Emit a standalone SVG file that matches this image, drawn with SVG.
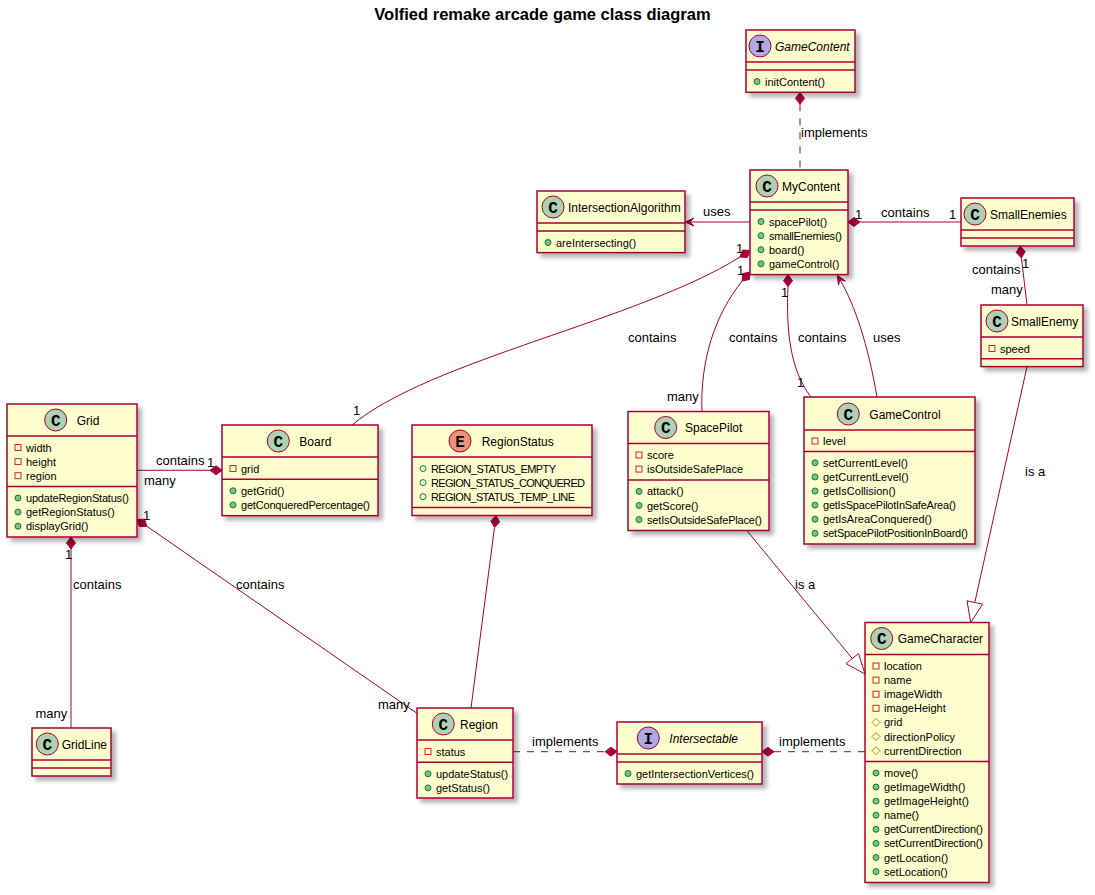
<svg xmlns="http://www.w3.org/2000/svg" width="1095" height="895" viewBox="0 0 1095 895">
<defs>
  <filter id="sh" x="-10%" y="-10%" width="130%" height="130%">
    <feGaussianBlur in="SourceAlpha" stdDeviation="2"/>
    <feOffset dx="4" dy="4" result="b"/>
    <feFlood flood-color="#000" flood-opacity="0.3"/>
    <feComposite in2="b" operator="in"/>
    <feMerge><feMergeNode/><feMergeNode in="SourceGraphic"/></feMerge>
  </filter>
  <style>
    .box{fill:#FEFECE;stroke:#A80036;stroke-width:1.5;filter:url(#sh)}
    .div{stroke:#A80036;stroke-width:1.5}
    .ic{stroke:#A80036;stroke-width:1}
    .cC{fill:#ADD1B2}.cI{fill:#B4A7E5}.cE{fill:#EB937F}
    .glyph{font-family:"Liberation Mono",monospace;font-weight:bold;font-size:16px;text-anchor:middle;fill:#000}
    .name{font-family:"Liberation Sans",Arial,sans-serif;font-size:12px;fill:#000}
    .abs{font-style:italic}
    .mem{font-family:"Liberation Sans",Arial,sans-serif;font-size:11px;fill:#000}
    .lbl{font-family:"Liberation Sans",Arial,sans-serif;font-size:13px;fill:#000}
    .title{font-family:"Liberation Sans",Arial,sans-serif;font-size:16.5px;font-weight:bold;text-anchor:middle;fill:#000}
    .priv{fill:none;stroke:#C82930;stroke-width:1}
    .pub{fill:#84BE84;stroke:#038048;stroke-width:1}
    .pubf{fill:none;stroke:#038048;stroke-width:1}
    .prot{fill:none;stroke:#B38D22;stroke-width:1}
    .ln{fill:none;stroke:#A80036;stroke-width:1}
    .dash{stroke-dasharray:7,7}
    .hd{fill:#A80036;stroke:#A80036;stroke-width:1}
    .tri{fill:none;stroke:#A80036;stroke-width:1}
  </style>
</defs>
<rect width="1095" height="895" fill="#FFFFFF"/>
<text class="title" x="542.5" y="20">Volfied remake arcade game class diagram</text>

<!-- connectors -->
<g id="connectors">
  <!-- GameContent / MyContent -->
  <polygon class="hd" points="800,92.3 804.5,98.3 800,104.3 795.5,98.3"/>
  <line class="ln dash" x1="800" y1="104.3" x2="800" y2="170"/>
  <text class="lbl" x="801" y="137">implements</text>
  <!-- MyContent uses IntersectionAlgorithm -->
  <line class="ln" x1="750" y1="222" x2="690" y2="222"/>
  <polygon class="hd" points="685,222 694,226 690,222 694,218"/>
  <text class="lbl" x="703" y="216">uses</text>
  <!-- MyContent / SmallEnemies -->
  <polygon class="hd" points="848,222 854,217.5 860,222 854,226.5"/>
  <line class="ln" x1="860" y1="222" x2="961" y2="222"/>
  <text class="lbl" x="855" y="219">1</text>
  <text class="lbl" x="881" y="216.5">contains</text>
  <text class="lbl" x="949" y="219">1</text>
  <!-- SmallEnemies / SmallEnemy -->
  <polygon class="hd" points="1020,246 1025.2,251.5 1021.4,257.9 1016.2,252.5"/>
  <line class="ln" x1="1021.4" y1="257.9" x2="1027" y2="305"/>
  <text class="lbl" x="972" y="273.5">contains</text>
  <text class="lbl" x="1022" y="268">1</text>
  <text class="lbl" x="991" y="294">many</text>
  <!-- SmallEnemy is a GameCharacter -->
  <line class="ln" x1="1027" y1="366.6" x2="974.8" y2="602.5"/>
  <polygon class="tri" points="970.7,622.5 982.6,604.2 967,600.8"/>
  <text class="lbl" x="1025" y="476">is a</text>
  <!-- MyContent / Board -->
  <polygon class="hd" points="750,250.5 747.4,257.5 739.9,257 742.5,250"/>
  <path class="ln" d="M739.9,257 C640,320 430,360 352,425"/>
  <text class="lbl" x="736" y="252.5">1</text>
  <text class="lbl" x="628" y="342">contains</text>
  <text class="lbl" x="353" y="414.5">1</text>
  <!-- MyContent / SpacePilot -->
  <polygon class="hd" points="750,272 749.4,279.5 742.1,281 742.7,273.5"/>
  <path class="ln" d="M742.1,281 C715,315 700,360 702,411.5"/>
  <text class="lbl" x="737" y="275">1</text>
  <text class="lbl" x="729" y="342">contains</text>
  <text class="lbl" x="667" y="400.5">many</text>
  <!-- MyContent / GameControl -->
  <polygon class="hd" points="788,274.6 792.5,280.6 788,286.6 783.5,280.6"/>
  <path class="ln" d="M788,286.6 C786,330 790,370 811,397"/>
  <text class="lbl" x="781" y="297">1</text>
  <text class="lbl" x="798" y="342">contains</text>
  <text class="lbl" x="797" y="387">1</text>
  <!-- GameControl uses MyContent -->
  <path class="ln" d="M877,397 C868,345 855,305 839.9,279.6"/>
  <polygon class="hd" points="837.3,275.3 845.4,281 839.9,279.6 838.5,285.1"/>
  <text class="lbl" x="873" y="342">uses</text>
  <!-- Grid / Board -->
  <polygon class="hd" points="222,470.3 216,465.8 210,470.3 216,474.8"/>
  <line class="ln" x1="137" y1="470.3" x2="210" y2="470.3"/>
  <text class="lbl" x="156" y="464.5">contains</text>
  <text class="lbl" x="207" y="466.5">1</text>
  <text class="lbl" x="144" y="485">many</text>
  <!-- Grid / GridLine -->
  <polygon class="hd" points="71,537 75.5,543 71,549 66.5,543"/>
  <line class="ln" x1="71" y1="549" x2="71" y2="728"/>
  <text class="lbl" x="65" y="558.5">1</text>
  <text class="lbl" x="73" y="589">contains</text>
  <text class="lbl" x="35.5" y="717.5">many</text>
  <!-- Grid / Region -->
  <polygon class="hd" points="137,519.5 144.5,519.2 146.9,526.3 139.4,526.6"/>
  <line class="ln" x1="146.9" y1="526.3" x2="417.3" y2="713.5"/>
  <text class="lbl" x="143" y="520">1</text>
  <text class="lbl" x="236" y="589">contains</text>
  <text class="lbl" x="378" y="709">many</text>
  <!-- RegionStatus / Region -->
  <polygon class="hd" points="496,515.5 499.7,522.1 494.5,527.4 490.8,520.9"/>
  <line class="ln" x1="494.5" y1="527.4" x2="471" y2="708"/>
  <!-- Region implements Intersectable -->
  <line class="ln dash" x1="513" y1="751.7" x2="605" y2="751.7"/>
  <polygon class="hd" points="617,751.7 611,747.2 605,751.7 611,756.2"/>
  <text class="lbl" x="532" y="746">implements</text>
  <!-- GameCharacter implements Intersectable -->
  <polygon class="hd" points="762,751.7 768,747.2 774,751.7 768,756.2"/>
  <line class="ln dash" x1="774" y1="751.7" x2="865" y2="751.7"/>
  <text class="lbl" x="779" y="746">implements</text>
  <!-- SpacePilot is a GameCharacter -->
  <line class="ln" x1="746.7" y1="530.4" x2="852.3" y2="658.6"/>
  <polygon class="tri" points="865,674 858.5,653.5 846.1,663.7"/>
  <text class="lbl" x="795" y="589">is a</text>
</g>

<!-- GameContent -->
<g id="GameContent">
  <rect class="box" x="746" y="30" width="109" height="62.3"/>
  <line class="div" x1="746" y1="62" x2="855" y2="62"/>
  <line class="div" x1="746" y1="70" x2="855" y2="70"/>
  <circle class="ic cI" cx="760" cy="46" r="11"/>
  <text class="glyph" x="760" y="51.5">I</text>
  <text class="name abs" x="775" y="50.5">GameContent</text>
  <circle class="pub" cx="757" cy="81.5" r="3"/>
  <text class="mem" x="765" y="85.5">initContent()</text>
</g>

<!-- MyContent -->
<g id="MyContent">
  <rect class="box" x="750" y="170" width="98" height="104.6"/>
  <line class="div" x1="750" y1="202" x2="848" y2="202"/>
  <line class="div" x1="750" y1="210" x2="848" y2="210"/>
  <circle class="ic cC" cx="767" cy="186" r="11"/>
  <text class="glyph" x="767" y="191.5">C</text>
  <text class="name" x="782" y="190.5">MyContent</text>
  <circle class="pub" cx="761" cy="221.5" r="3"/>
  <text class="mem" x="769" y="225.5">spacePilot()</text>
  <circle class="pub" cx="761" cy="235.6" r="3"/>
  <text class="mem" x="769" y="239.6" textLength="73">smallEnemies()</text>
  <circle class="pub" cx="761" cy="249.7" r="3"/>
  <text class="mem" x="769" y="253.7">board()</text>
  <circle class="pub" cx="761" cy="263.8" r="3"/>
  <text class="mem" x="769" y="267.8">gameControl()</text>
</g>

<!-- IntersectionAlgorithm -->
<g id="IntersectionAlgorithm">
  <rect class="box" x="537" y="191" width="148" height="61.6"/>
  <line class="div" x1="537" y1="223" x2="685" y2="223"/>
  <line class="div" x1="537" y1="231" x2="685" y2="231"/>
  <circle class="ic cC" cx="553" cy="207" r="11"/>
  <text class="glyph" x="553" y="212.5">C</text>
  <text class="name" x="568" y="211.5">IntersectionAlgorithm</text>
  <circle class="pub" cx="548" cy="242.5" r="3"/>
  <text class="mem" x="556" y="246.5">areIntersecting()</text>
</g>

<!-- SmallEnemies -->
<g id="SmallEnemies">
  <rect class="box" x="961" y="198" width="113" height="48"/>
  <line class="div" x1="961" y1="230" x2="1074" y2="230"/>
  <line class="div" x1="961" y1="238" x2="1074" y2="238"/>
  <circle class="ic cC" cx="975" cy="214" r="11"/>
  <text class="glyph" x="975" y="219.5">C</text>
  <text class="name" x="990" y="218.5">SmallEnemies</text>
</g>

<!-- SmallEnemy -->
<g id="SmallEnemy">
  <rect class="box" x="981" y="305" width="102" height="61.6"/>
  <line class="div" x1="981" y1="337" x2="1083" y2="337"/>
  <line class="div" x1="981" y1="358.8" x2="1083" y2="358.8"/>
  <circle class="ic cC" cx="997" cy="321" r="11"/>
  <text class="glyph" x="997" y="326.5">C</text>
  <text class="name" x="1011" y="325.5">SmallEnemy</text>
  <rect class="priv" x="989" y="345.5" width="6" height="6"/>
  <text class="mem" x="1000" y="352.5">speed</text>
</g>

<!-- Grid -->
<g id="Grid">
  <rect class="box" x="7" y="404" width="130" height="133"/>
  <line class="div" x1="7" y1="436" x2="137" y2="436"/>
  <line class="div" x1="7" y1="486.5" x2="137" y2="486.5"/>
  <circle class="ic cC" cx="55.7" cy="420" r="11"/>
  <text class="glyph" x="55.7" y="425.5">C</text>
  <text class="name" x="76.7" y="424.5">Grid</text>
  <rect class="priv" x="15" y="444.5" width="6" height="6"/>
  <text class="mem" x="26" y="451.5">width</text>
  <rect class="priv" x="15" y="458.6" width="6" height="6"/>
  <text class="mem" x="26" y="465.6">height</text>
  <rect class="priv" x="15" y="472.7" width="6" height="6"/>
  <text class="mem" x="26" y="479.7">region</text>
  <circle class="pub" cx="18" cy="498" r="3"/>
  <text class="mem" x="26" y="502" textLength="103">updateRegionStatus()</text>
  <circle class="pub" cx="18" cy="512.1" r="3"/>
  <text class="mem" x="26" y="516.1">getRegionStatus()</text>
  <circle class="pub" cx="18" cy="526.2" r="3"/>
  <text class="mem" x="26" y="530.2">displayGrid()</text>
</g>

<!-- Board -->
<g id="Board">
  <rect class="box" x="222" y="425" width="156" height="90.7"/>
  <line class="div" x1="222" y1="457" x2="378" y2="457"/>
  <line class="div" x1="222" y1="479.3" x2="378" y2="479.3"/>
  <circle class="ic cC" cx="278.3" cy="441" r="11"/>
  <text class="glyph" x="278.3" y="446.5">C</text>
  <text class="name" x="299.3" y="445.5">Board</text>
  <rect class="priv" x="230" y="465.5" width="6" height="6"/>
  <text class="mem" x="241" y="472.5">grid</text>
  <circle class="pub" cx="233" cy="490.8" r="3"/>
  <text class="mem" x="241" y="494.8">getGrid()</text>
  <circle class="pub" cx="233" cy="504.9" r="3"/>
  <text class="mem" x="241" y="508.9" textLength="129">getConqueredPercentage()</text>
</g>

<!-- GridLine -->
<g id="GridLine">
  <rect class="box" x="32" y="728" width="79" height="48"/>
  <line class="div" x1="32" y1="760" x2="111" y2="760"/>
  <line class="div" x1="32" y1="768" x2="111" y2="768"/>
  <circle class="ic cC" cx="47.3" cy="744" r="11"/>
  <text class="glyph" x="47.3" y="749.5">C</text>
  <text class="name" x="61.7" y="748.5">GridLine</text>
</g>

<!-- RegionStatus -->
<g id="RegionStatus">
  <rect class="box" x="412" y="425" width="180" height="90.5"/>
  <line class="div" x1="412" y1="457" x2="592" y2="457"/>
  <line class="div" x1="412" y1="507.5" x2="592" y2="507.5"/>
  <circle class="ic cE" cx="460" cy="441" r="11"/>
  <text class="glyph" x="460" y="446.5">E</text>
  <text class="name" x="481.7" y="445.5">RegionStatus</text>
  <circle class="pubf" cx="423" cy="468.5" r="3"/>
  <text class="mem" x="431" y="472.5" textLength="125">REGION_STATUS_EMPTY</text>
  <circle class="pubf" cx="423" cy="482.6" r="3"/>
  <text class="mem" x="431" y="486.6" textLength="154">REGION_STATUS_CONQUERED</text>
  <circle class="pubf" cx="423" cy="496.7" r="3"/>
  <text class="mem" x="431" y="500.7" textLength="144">REGION_STATUS_TEMP_LINE</text>
</g>

<!-- SpacePilot -->
<g id="SpacePilot">
  <rect class="box" x="628" y="411.5" width="141" height="119"/>
  <line class="div" x1="628" y1="443.5" x2="769" y2="443.5"/>
  <line class="div" x1="628" y1="479.9" x2="769" y2="479.9"/>
  <circle class="ic cC" cx="665.7" cy="427.5" r="11"/>
  <text class="glyph" x="665.7" y="433">C</text>
  <text class="name" x="685" y="432">SpacePilot</text>
  <rect class="priv" x="636" y="452" width="6" height="6"/>
  <text class="mem" x="647" y="459">score</text>
  <rect class="priv" x="636" y="466.1" width="6" height="6"/>
  <text class="mem" x="647" y="473.1">isOutsideSafePlace</text>
  <circle class="pub" cx="639" cy="491.4" r="3"/>
  <text class="mem" x="647" y="495.4">attack()</text>
  <circle class="pub" cx="639" cy="505.5" r="3"/>
  <text class="mem" x="647" y="509.5">getScore()</text>
  <circle class="pub" cx="639" cy="519.6" r="3"/>
  <text class="mem" x="647" y="523.6" textLength="115">setIsOutsideSafePlace()</text>
</g>

<!-- GameControl -->
<g id="GameControl">
  <rect class="box" x="804" y="397" width="171" height="147"/>
  <line class="div" x1="804" y1="430" x2="975" y2="430"/>
  <line class="div" x1="804" y1="451.5" x2="975" y2="451.5"/>
  <circle class="ic cC" cx="848.3" cy="414" r="11"/>
  <text class="glyph" x="848.3" y="419.5">C</text>
  <text class="name" x="869.3" y="418.5">GameControl</text>
  <rect class="priv" x="812" y="438" width="6" height="6"/>
  <text class="mem" x="823" y="445">level</text>
  <circle class="pub" cx="815" cy="462.8" r="3"/>
  <text class="mem" x="823" y="466.8">setCurrentLevel()</text>
  <circle class="pub" cx="815" cy="476.9" r="3"/>
  <text class="mem" x="823" y="480.9">getCurrentLevel()</text>
  <circle class="pub" cx="815" cy="491" r="3"/>
  <text class="mem" x="823" y="495">getIsCollision()</text>
  <circle class="pub" cx="815" cy="505.1" r="3"/>
  <text class="mem" x="823" y="509.1" textLength="133">getIsSpacePilotInSafeArea()</text>
  <circle class="pub" cx="815" cy="519.2" r="3"/>
  <text class="mem" x="823" y="523.2">getIsAreaConquered()</text>
  <circle class="pub" cx="815" cy="533.3" r="3"/>
  <text class="mem" x="823" y="537.3" textLength="145">setSpacePilotPositionInBoard()</text>
</g>

<!-- Region -->
<g id="Region">
  <rect class="box" x="417" y="708" width="96" height="90"/>
  <line class="div" x1="417" y1="740" x2="513" y2="740"/>
  <line class="div" x1="417" y1="762.3" x2="513" y2="762.3"/>
  <circle class="ic cC" cx="443.3" cy="724" r="11"/>
  <text class="glyph" x="443.3" y="729.5">C</text>
  <text class="name" x="460" y="728.5">Region</text>
  <rect class="priv" x="425" y="748.5" width="6" height="6"/>
  <text class="mem" x="436" y="755.5">status</text>
  <circle class="pub" cx="428" cy="773.8" r="3"/>
  <text class="mem" x="436" y="777.8">updateStatus()</text>
  <circle class="pub" cx="428" cy="787.9" r="3"/>
  <text class="mem" x="436" y="791.9">getStatus()</text>
</g>

<!-- Intersectable -->
<g id="Intersectable">
  <rect class="box" x="617" y="722" width="145" height="62"/>
  <line class="div" x1="617" y1="754" x2="762" y2="754"/>
  <line class="div" x1="617" y1="762" x2="762" y2="762"/>
  <circle class="ic cI" cx="648.3" cy="738" r="11"/>
  <text class="glyph" x="648.3" y="743.5">I</text>
  <text class="name abs" x="669.3" y="742.5">Intersectable</text>
  <circle class="pub" cx="628" cy="773.5" r="3"/>
  <text class="mem" x="636" y="777.5" textLength="118">getIntersectionVertices()</text>
</g>

<!-- GameCharacter -->
<g id="GameCharacter">
  <rect class="box" x="865" y="622.5" width="124" height="260"/>
  <line class="div" x1="865" y1="654.5" x2="989" y2="654.5"/>
  <line class="div" x1="865" y1="761.4" x2="989" y2="761.4"/>
  <circle class="ic cC" cx="881.7" cy="638.5" r="11"/>
  <text class="glyph" x="881.7" y="644">C</text>
  <text class="name" x="897.7" y="643">GameCharacter</text>
  <rect class="priv" x="873" y="663" width="6" height="6"/>
  <text class="mem" x="884" y="670">location</text>
  <rect class="priv" x="873" y="677.1" width="6" height="6"/>
  <text class="mem" x="884" y="684.1">name</text>
  <rect class="priv" x="873" y="691.2" width="6" height="6"/>
  <text class="mem" x="884" y="698.2">imageWidth</text>
  <rect class="priv" x="873" y="705.3" width="6" height="6"/>
  <text class="mem" x="884" y="712.3">imageHeight</text>
  <polygon class="prot" points="876,718.4 880,722.4 876,726.4 872,722.4"/>
  <text class="mem" x="884" y="726.4">grid</text>
  <polygon class="prot" points="876,732.5 880,736.5 876,740.5 872,736.5"/>
  <text class="mem" x="884" y="740.5">directionPolicy</text>
  <polygon class="prot" points="876,746.6 880,750.6 876,754.6 872,750.6"/>
  <text class="mem" x="884" y="754.6">currentDirection</text>
  <circle class="pub" cx="876" cy="772.9" r="3"/>
  <text class="mem" x="884" y="776.9">move()</text>
  <circle class="pub" cx="876" cy="787" r="3"/>
  <text class="mem" x="884" y="791">getImageWidth()</text>
  <circle class="pub" cx="876" cy="801.1" r="3"/>
  <text class="mem" x="884" y="805.1">getImageHeight()</text>
  <circle class="pub" cx="876" cy="815.2" r="3"/>
  <text class="mem" x="884" y="819.2">name()</text>
  <circle class="pub" cx="876" cy="829.3" r="3"/>
  <text class="mem" x="884" y="833.3" textLength="99">getCurrentDirection()</text>
  <circle class="pub" cx="876" cy="843.4" r="3"/>
  <text class="mem" x="884" y="847.4" textLength="99">setCurrentDirection()</text>
  <circle class="pub" cx="876" cy="857.5" r="3"/>
  <text class="mem" x="884" y="861.5">getLocation()</text>
  <circle class="pub" cx="876" cy="871.6" r="3"/>
  <text class="mem" x="884" y="875.6">setLocation()</text>
</g>
</svg>
